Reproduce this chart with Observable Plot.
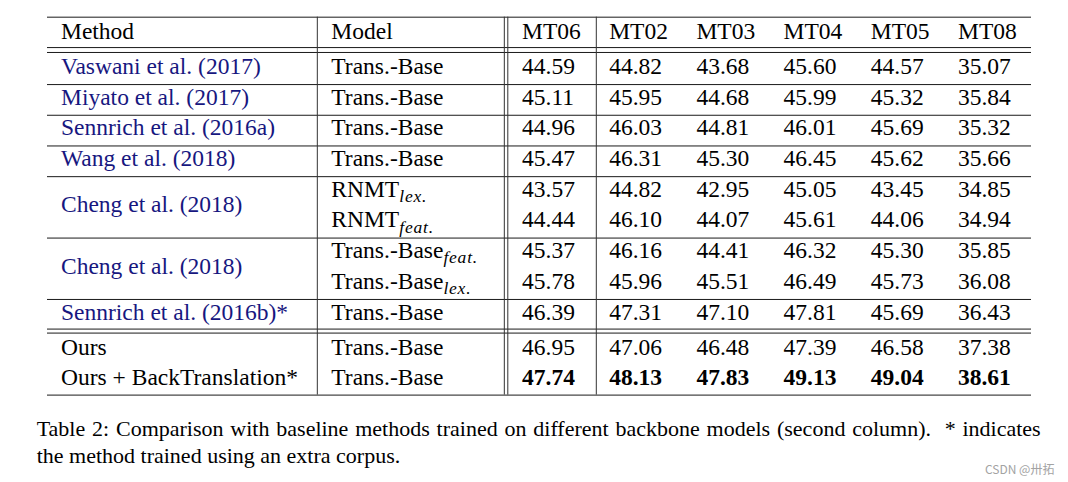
<!DOCTYPE html>
<html><head><meta charset="utf-8">
<script src="https://cdn.jsdelivr.net/npm/d3@7"></script>
<script src="https://cdn.jsdelivr.net/npm/@observablehq/plot@0.6"></script>
<style>
body{margin:0;background:#fff;width:1068px;height:482px;position:relative;overflow:hidden;font-family:"Liberation Serif","Times New Roman",serif;}
#chart{position:absolute;left:0;top:0;}
#cap{position:absolute;left:36.7px;top:416px;width:1004px;font-size:22px;line-height:26.7px;color:#000;}
#cap .l1{text-align:justify;text-align-last:justify;}
#wm{position:absolute;left:985px;top:460px;font-size:12px;font-family:"Noto Sans CJK SC","Noto Sans",sans-serif;color:#a3a3a3;}
</style></head><body>
<div id="chart"></div>
<div id="cap"><div class="l1">Table 2: Comparison with baseline methods trained on different backbone models (second column). &nbsp;* indicates</div><div>the method trained using an extra corpus.</div></div>
<div id="wm">CSDN @卅拓</div>
<script>
// ---- data ----
const headers = ["Method","Model","MT06","MT02","MT03","MT04","MT05","MT08"];
const methodNames = ["Vaswani et al. (2017)","Miyato et al. (2017)","Sennrich et al. (2016a)","Wang et al. (2018)","Cheng et al. (2018)","Cheng et al. (2018)","Sennrich et al. (2016b)*","Ours","Ours + BackTranslation*"];
const methodSpans = [1,1,1,1,2,2,1,1,1];
const methodCited = [true,true,true,true,true,true,true,false,false];
const methodBlock = [0,1,2,3,4,5,6,7,7];
const models = ["Trans.-Base","Trans.-Base","Trans.-Base","Trans.-Base","RNMT_lex.","RNMT_feat.","Trans.-Base_feat.","Trans.-Base_lex.","Trans.-Base","Trans.-Base","Trans.-Base"];
const MT06 = [44.59,45.11,44.96,45.47,43.57,44.44,45.37,45.78,46.39,46.95,47.74];
const MT02 = [44.82,45.95,46.03,46.31,44.82,46.10,46.16,45.96,47.31,47.06,48.13];
const MT03 = [43.68,44.68,44.81,45.30,42.95,44.07,44.41,45.51,47.10,46.48,47.83];
const MT04 = [45.60,45.99,46.01,46.45,45.05,45.61,46.32,46.49,47.81,47.39,49.13];
const MT05 = [44.57,45.32,45.69,45.62,43.45,44.06,45.30,45.73,45.69,46.58,49.04];
const MT08 = [35.07,35.84,35.32,35.66,34.85,34.94,35.85,36.08,36.43,37.38,38.61];
const boldRows = [10];

// ---- layout (column units / row units) ----
const series = {MT06, MT02, MT03, MT04, MT05, MT08};
const numCols = ["MT06","MT02","MT03","MT04","MT05","MT08"];
const colX = {Method: -5.287, Model: -2.187};
numCols.forEach((c, j) => colX[c] = j);
const GAP = 0.145;
const nRows = models.length;
const rowBlock = [];
methodSpans.forEach((s, m) => { for (let k = 0; k < s; k++) rowBlock.push(methodBlock[m]); });
const doubleAfterBlock = 6;
const rowPos = d3.range(nRows).map(i => i + 1 + GAP * (1 + (rowBlock[i] > doubleAfterBlock ? 1 : 0)));

const cells = [];
headers.forEach(h => cells.push({x: colX[h], y: 0, text: h, fill: "#000", bold: false}));
let r = 0;
methodNames.forEach((name, m) => {
  const span = methodSpans[m];
  cells.push({x: colX.Method, y: d3.mean(rowPos.slice(r, r + span)), text: name, fill: methodCited[m] ? "#17177f" : "#000", bold: false});
  r += span;
});
models.forEach((t, i) => cells.push({x: colX.Model, y: rowPos[i], text: t, fill: "#000", bold: false}));
numCols.forEach(c => series[c].forEach((v, i) => cells.push({x: colX[c], y: rowPos[i], text: d3.format(".2f")(v), fill: "#000", bold: boldRows.includes(i)})));

const hRules = [-0.46, 0.53, 0.69];
d3.range(nRows).forEach(i => {
  const last = i === nRows - 1 || rowBlock[i + 1] !== rowBlock[i];
  if (!last) return;
  if (i === nRows - 1) hRules.push(rowPos[i] + 0.56);
  else if (rowBlock[i] === doubleAfterBlock) hRules.push(rowPos[i] + 0.555, rowPos[i] + 0.685);
  else hRules.push(rowPos[i] + 0.59);
});
const yTop = hRules[0], yBot = hRules[hRules.length - 1];
const vRules = [-2.3475, -0.203, -0.163, 0.852];

const plot = Plot.plot({
  width: 1068, height: 416,
  marginLeft: 47, marginRight: 37, marginTop: 15.45, marginBottom: 1.45,
  x: {domain: [-5.442, 5.843], axis: null},
  y: {domain: [-0.5, 12.5], reverse: true, axis: null},
  style: {fontFamily: "'Liberation Serif','Times New Roman',serif", background: "#fff"},
  marks: [
    Plot.ruleY(hRules, {y: d => d, stroke: "#1a1a1a", strokeWidth: 1}),
    Plot.ruleX(vRules, {x: d => d, y1: yTop, y2: yBot, stroke: "#333", strokeWidth: 1}),
    Plot.text(cells.filter(d => !d.bold), {x: "x", y: "y", text: "text", fill: "fill", textAnchor: "start", fontSize: 23.5}),
    Plot.text(cells.filter(d => d.bold), {x: "x", y: "y", text: "text", fill: "fill", textAnchor: "start", fontSize: 23.5, fontWeight: "bold"})
  ]
});

d3.select(plot).selectAll("text").each(function () {
  const t = this.textContent;
  if (!t.includes("_")) return;
  const [base, sub] = t.split("_");
  this.textContent = base;
  d3.select(this).append("tspan").attr("dy", "0.3em").attr("font-size", "17.5").attr("letter-spacing", "0.8").attr("font-style", "italic").text(sub);
});
document.getElementById("chart").appendChild(plot);
</script>
</body></html>
